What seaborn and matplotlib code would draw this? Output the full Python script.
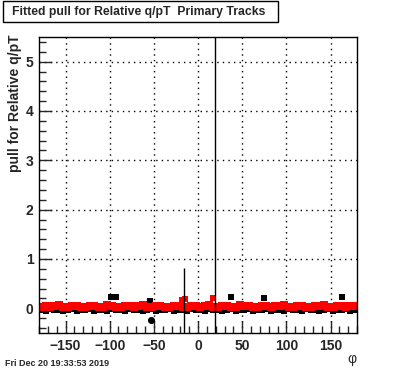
import numpy as np
import pandas as pd
import seaborn as sns
import matplotlib.pyplot as plt
from matplotlib.patches import Rectangle
from matplotlib.ticker import MultipleLocator

# phi bin centres (5 degree bins)
phi_bins = np.arange(-177.5, 180, 5)

# main fitted pull per bin (red) and the black series underneath
pull_red = [0.03, 0.05, 0.02, 0.04, 0.06, 0.03, 0.02, 0.04, 0.05, 0.03, 0.02, 0.05,
            0.04, 0.03, 0.02, 0.06, 0.04, 0.02, 0.03, 0.05, 0.04, 0.02, 0.04, 0.06,
            0.02, 0.03, 0.05, 0.04, 0.02, 0.03, 0.05, 0.04, 0.02, 0.03, 0.04, 0.05,
            0.02, 0.04, 0.06, 0.03, 0.02, 0.05, 0.04, 0.03, 0.02, 0.06, 0.04, 0.05,
            0.02, 0.03, 0.05, 0.04, 0.02, 0.04, 0.05, 0.06, 0.03, 0.02, 0.05, 0.04,
            0.03, 0.02, 0.05, 0.04, 0.06, 0.02, 0.03, 0.05, 0.04, 0.02, 0.04, 0.05]
pull_black = [-0.03, -0.05, -0.02, -0.04, -0.03, -0.05, -0.04, -0.02, -0.05, -0.03, -0.04, -0.02,
              -0.05, -0.03, -0.04, -0.05, -0.02, -0.04, -0.03, -0.05, -0.02, -0.04, -0.03, -0.05,
              -0.04, -0.02, -0.05, -0.03, -0.04, -0.02, -0.05, -0.03, -0.04, -0.05, -0.02, -0.04,
              -0.03, -0.05, -0.02, -0.04, -0.03, -0.05, -0.04, -0.02, -0.05, -0.03, -0.04, -0.02,
              -0.05, -0.03, -0.04, -0.02, -0.05, -0.04, -0.03, -0.05, -0.02, -0.04, -0.03, -0.05,
              -0.02, -0.04, -0.03, -0.05, -0.04, -0.02, -0.05, -0.03, -0.04, -0.02, -0.05, -0.03]

# outliers
blk_sq_phi = [-99, -93, -54, 37, 75, 163]
blk_sq_val = [0.22, 0.22, 0.14, 0.22, 0.20, 0.22]
blk_dot_phi = [-53]
blk_dot_val = [-0.24]
red_out_phi = [-18, -15, 17]
red_out_val = [0.17, 0.19, 0.20]
# error bars (lower, upper) on two red outliers
err_phi = [-16, 19]
err_val = [0.19, 0.20]
err_lo = [0.8, 0.8]
err_hi = [0.62, 5.4]

sns.set_style("white")
plt.rcParams['font.family'] = ['Liberation Sans', 'DejaVu Sans']

fig = plt.figure(figsize=(3.96, 3.72), dpi=100)
ax = fig.add_axes([39 / 396, 39 / 372, 318 / 396, 296 / 372])

df_blk = pd.DataFrame({"phi": phi_bins, "pull": pull_black})
df_red = pd.DataFrame({"phi": phi_bins, "pull": pull_red})

sns.scatterplot(data=df_blk, x="phi", y="pull", color="black", marker="s",
                s=22, linewidth=0, ax=ax)
sns.scatterplot(x=blk_dot_phi, y=blk_dot_val, color="black", marker="o",
                s=26, linewidth=0, ax=ax)
sns.scatterplot(x=blk_sq_phi, y=blk_sq_val, color="black", marker="s",
                s=22, linewidth=0, ax=ax)
ax.errorbar(err_phi, err_val, yerr=[err_lo, err_hi], fmt="none",
            ecolor="black", elinewidth=1, capsize=0)
sns.scatterplot(data=df_red, x="phi", y="pull", color="red", marker="s",
                s=26, linewidth=0, ax=ax)
sns.scatterplot(x=red_out_phi, y=red_out_val, color="red", marker="s",
                s=22, linewidth=0, ax=ax)

ax.set_xlim(-180, 180)
ax.set_ylim(-0.5, 5.5)
ax.xaxis.set_major_locator(MultipleLocator(50))
ax.xaxis.set_minor_locator(MultipleLocator(10))
ax.yaxis.set_major_locator(MultipleLocator(1))
ax.yaxis.set_minor_locator(MultipleLocator(0.2))
ax.grid(True, which="major", color="black", linestyle=(0, (1, 3)), linewidth=1)
ax.tick_params(which="major", direction="in", length=9, width=1,
               labelsize=10, top=False, right=False, bottom=True, left=True, pad=4)
ax.tick_params(which="minor", direction="in", length=5, width=1,
               top=False, right=False, bottom=True, left=True)
for lab in ax.get_xticklabels() + ax.get_yticklabels():
    lab.set_fontweight("bold")
for sp in ax.spines.values():
    sp.set_color("black")
    sp.set_linewidth(1)
ax.set_xlabel("")
ax.set_ylabel("")

fig.text(15 / 396, 1 - 34 / 372, "pull for Relative q/pT", fontsize=10,
         fontweight="bold", rotation=90, ha="center", va="top")
fig.text(352 / 396, 1 - 366 / 372, "φ", fontsize=10, ha="center", va="bottom")
fig.text(5 / 396, 1 - 368 / 372, "Fri Dec 20 19:33:53 2019", fontsize=6.5,
         fontweight="bold", ha="left", va="bottom")

fig.patches.append(Rectangle((3 / 396, 1 - 22 / 372), 275 / 396, 21 / 372,
                             transform=fig.transFigure, facecolor="white",
                             edgecolor="black", linewidth=1))
fig.text(12 / 396, 1 - 12 / 372, "Fitted pull for Relative q/pT  Primary Tracks",
         fontsize=8.8, fontweight="bold", ha="left", va="center")

fig.savefig("out.png", dpi=100)
